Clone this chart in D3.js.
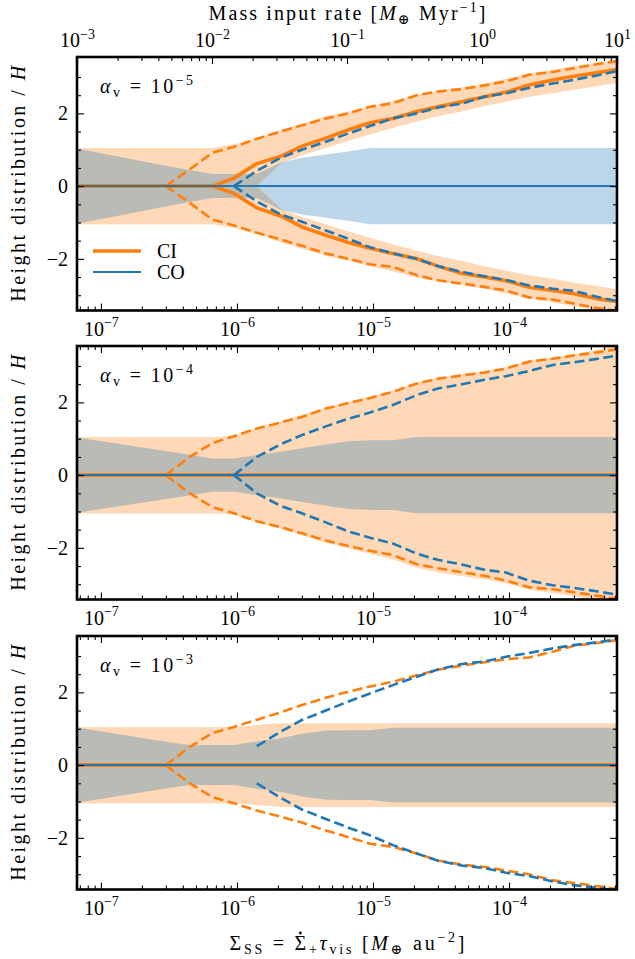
<!DOCTYPE html>
<html>
<head>
<meta charset="utf-8">
<script src="https://cdn.jsdelivr.net/npm/d3@7"></script>
<style>
body { margin: 0; background: #fff; }
text { font-family: "Liberation Serif", "DejaVu Serif", serif; fill: #000; }
</style>
</head>
<body>
<svg id="chart" width="635" height="959"></svg>
<script>
// Sigma_SS sample points [M_earth au^-2]
var sigma = [6.3e-8, 3.0e-7, 4.5e-7, 6.6e-7, 9.5e-7, 1.4e-6, 2.1e-6, 3.0e-6, 4.5e-6, 6.6e-6, 9.5e-6,
             1.4e-5, 2.1e-5, 3.0e-5, 4.5e-5, 6.6e-5, 9.5e-5, 1.4e-4, 2.1e-4, 3.0e-4, 4.5e-4, 6.6e-4];
var midplane = [0, 0, 0, 0, 0, 0, 0, 0, 0, 0, 0, 0, 0, 0, 0, 0, 0, 0, 0, 0, 0, 0];

// alpha_v = 1e-5
var p1CiBand = [1.05, 1.05, 1.05, 1.05, 1.15, 1.32, 1.55, 1.72, 1.92, 2.05, 2.2, 2.35, 2.52, 2.62, 2.72, 2.82, 2.95, 3.1, 3.2, 3.3, 3.4, 3.48];
var p1CiGap = [-1.05, -1.05, -1.05, -1.05, -1.05, 0, 0.62, 0.85, 1.05, 1.25, 1.42, 1.6, 1.78, 1.92, 2.05, 2.2, 2.32, 2.45, 2.55, 2.65, 2.75, 2.85];
var p1CoBand = [1.05, 0.56, 0.44, 0.33, 0.33, 0.33, 0.65, 0.78, 0.87, 0.95, 1.05, 1.05, 1.05, 1.05, 1.05, 1.05, 1.05, 1.05, 1.05, 1.05, 1.05, 1.05];
var p1CiUp = [0, 0, 0, 0, 0.22, 0.62, 0.82, 1.1, 1.32, 1.55, 1.74, 1.86, 2.05, 2.18, 2.32, 2.46, 2.58, 2.78, 2.92, 3.02, 3.12, 3.22];
var p1CiLo = [0, 0, 0, 0, -0.2, -0.6, -0.82, -1.12, -1.35, -1.55, -1.71, -1.85, -2.0, -2.2, -2.4, -2.5, -2.6, -2.78, -2.87, -2.96, -3.1, -3.18];
var p1CiDashUp = [null, 0, 0.46, 0.92, 1.08, 1.3, 1.5, 1.67, 1.86, 2.0, 2.18, 2.28, 2.5, 2.6, 2.67, 2.77, 2.88, 3.06, 3.14, 3.24, 3.36, 3.45];
var p1CiDashLo = [null, 0, -0.46, -0.92, -1.08, -1.28, -1.47, -1.64, -1.85, -2.0, -2.15, -2.22, -2.45, -2.59, -2.68, -2.77, -2.87, -3.06, -3.12, -3.23, -3.36, -3.43];
var p1CoDashUp = [null, null, null, null, 0, 0.42, 0.78, 1.0, 1.22, 1.45, 1.65, 1.86, 2.0, 2.16, 2.27, 2.46, 2.55, 2.7, 2.82, 2.92, 3.05, 3.18];
var p1CoDashLo = [null, null, null, null, 0, -0.42, -0.78, -0.98, -1.22, -1.45, -1.68, -1.85, -2.0, -2.2, -2.36, -2.48, -2.58, -2.73, -2.82, -2.88, -3.05, -3.18];

// alpha_v = 1e-4
var p2CiBand = [1.05, 1.05, 1.05, 1.05, 1.08, 1.3, 1.48, 1.65, 1.86, 2.02, 2.16, 2.32, 2.55, 2.68, 2.78, 2.86, 2.97, 3.15, 3.24, 3.33, 3.45, 3.6];
var p2CiGap = [-1.05, -1.05, -1.05, -1.05, -1.05, -1.05, -1.05, -1.05, -1.05, -1.05, -1.05, -1.05, -1.05, -1.05, -1.05, -1.05, -1.05, -1.05, -1.05, -1.05, -1.05, -1.05];
var p2CoBand = [1.05, 0.66, 0.56, 0.46, 0.46, 0.55, 0.64, 0.74, 0.84, 0.93, 0.96, 0.96, 1.05, 1.05, 1.05, 1.05, 1.05, 1.05, 1.05, 1.05, 1.05, 1.05];
var p2CiDashUp = [null, 0, 0.5, 0.88, 1.07, 1.28, 1.45, 1.6, 1.83, 1.98, 2.12, 2.29, 2.52, 2.65, 2.74, 2.82, 2.93, 3.12, 3.2, 3.29, 3.38, 3.47];
var p2CiDashLo = [null, 0, -0.5, -0.88, -1.05, -1.27, -1.43, -1.6, -1.8, -1.95, -2.08, -2.2, -2.45, -2.56, -2.67, -2.77, -2.9, -3.08, -3.14, -3.22, -3.32, -3.42];
var p2CoDashUp = [null, null, null, null, 0, 0.5, 0.85, 1.1, 1.34, 1.55, 1.72, 1.93, 2.2, 2.38, 2.5, 2.62, 2.72, 2.86, 3.03, 3.1, 3.2, 3.3];
var p2CoDashLo = [null, null, null, null, 0, -0.5, -0.85, -1.05, -1.3, -1.55, -1.72, -1.88, -2.16, -2.33, -2.46, -2.6, -2.68, -2.9, -3.03, -3.1, -3.2, -3.3];

// alpha_v = 1e-3
var p3CiBand = [1.05, 1.05, 1.05, 1.05, 1.05, 1.1, 1.15, 1.15, 1.15, 1.15, 1.15, 1.15, 1.15, 1.15, 1.15, 1.15, 1.15, 1.15, 1.15, 1.15, 1.15, 1.15];
var p3CiGap = [-1.05, -1.05, -1.05, -1.05, -1.05, -1.05, -1.05, -1.05, -1.05, -1.05, -1.05, -1.05, -1.05, -1.05, -1.05, -1.05, -1.05, -1.05, -1.05, -1.05, -1.05, -1.05];
var p3CoBand = [1.05, 0.64, 0.55, 0.55, 0.55, 0.65, 0.74, 0.86, 0.95, 0.96, 0.96, 1.03, 1.03, 1.03, 1.03, 1.03, 1.03, 1.03, 1.03, 1.03, 1.03, 1.03];
var p3CiDashUp = [null, 0, 0.5, 0.88, 1.05, 1.25, 1.45, 1.65, 1.85, 2.02, 2.16, 2.29, 2.47, 2.62, 2.74, 2.83, 2.91, 2.96, 3.12, 3.28, 3.36, 3.45];
var p3CiDashLo = [null, 0, -0.5, -0.88, -1.05, -1.25, -1.42, -1.58, -1.8, -1.98, -2.16, -2.25, -2.43, -2.62, -2.74, -2.8, -2.9, -3.0, -3.17, -3.24, -3.33, -3.42];
var p3CoDashUp = [null, null, null, null, null, 0.52, 0.92, 1.24, 1.5, 1.75, 1.97, 2.2, 2.43, 2.63, 2.78, 2.85, 2.98, 3.08, 3.21, 3.3, 3.38, 3.47];
var p3CoDashLo = [null, null, null, null, null, -0.5, -0.9, -1.22, -1.48, -1.72, -1.93, -2.2, -2.43, -2.63, -2.76, -2.83, -2.96, -3.05, -3.2, -3.3, -3.38, -3.45];

var alphaExp = ["\u22125", "\u22124", "\u22123"];
var xMajor = [1e-7, 1e-6, 1e-5, 1e-4];
var xMajorExp = ["\u22127", "\u22126", "\u22125", "\u22124"];
var topMajor = [1e-3, 1e-2, 1e-1, 1e0, 1e1];
var topMajorExp = ["\u22123", "\u22122", "\u22121", "0", "1"];
var yMajor = [-2, 0, 2];
var yMajorLabels = ["\u22122", "0", "2"];
var yMinor = [-3, -2.5, -1.5, -1, -0.5, 0.5, 1, 1.5, 2.5, 3];

var panels = [
    { ciBand: p1CiBand, ciGap: p1CiGap, coBand: p1CoBand, ciUp: p1CiUp, ciLo: p1CiLo,
      ciDashUp: p1CiDashUp, ciDashLo: p1CiDashLo, coDashUp: p1CoDashUp, coDashLo: p1CoDashLo },
    { ciBand: p2CiBand, ciGap: p2CiGap, coBand: p2CoBand, ciUp: midplane, ciLo: midplane,
      ciDashUp: p2CiDashUp, ciDashLo: p2CiDashLo, coDashUp: p2CoDashUp, coDashLo: p2CoDashLo },
    { ciBand: p3CiBand, ciGap: p3CiGap, coBand: p3CoBand, ciUp: midplane, ciLo: midplane,
      ciDashUp: p3CiDashUp, ciDashLo: p3CiDashLo, coDashUp: p3CoDashUp, coDashLo: p3CoDashLo }
];

var ORANGE = "#ff7f0e", BLUE = "#1f77b4", PEACH = "#ffd9b7";
var FS = 20;
var DASH = "10,4.5";
var left = 77, right = 617, panelTops = [57, 346, 636], ph = 253.5;

var svg = d3.select("#chart");
var x = d3.scaleLog().domain([6.67e-8, 6.22e-4]).range([left, right]);
var xTop = d3.scaleLog().domain([1e-3, 1e1]).range([left, right]);

function rich(t, parts, fs) {
    var shift = 0, spans = [];
    parts.forEach(function (p) {
        var kind = p[1] || "";
        var target = kind === "sup" ? -0.42 * fs : (kind === "sub" ? 0.22 * fs : 0);
        var ts = t.append("tspan").text(p[0])
            .attr("dy", target - shift)
            .attr("font-size", (kind === "sup" || kind === "sub") ? fs * 0.7 : fs);
        if (kind === "i") ts.attr("font-style", "italic");
        shift = target;
        spans.push(ts);
    });
    return spans;
}

function minorOf(scale) {
    return scale.ticks().filter(function (v) {
        var l = Math.log10(v);
        return Math.abs(l - Math.round(l)) > 1e-6;
    });
}

function cleanAxis(g) {
    g.select(".domain").remove();
    g.attr("font-family", null).attr("font-size", null);
    g.selectAll(".tick line").attr("stroke", "#000").attr("stroke-width", 1.1);
}

panels.forEach(function (pd, pi) {
    var top = panelTops[pi], bottom = top + ph;
    var y = d3.scaleLinear().domain([-3.42, 3.55]).range([bottom, top]);
    var g = svg.append("g");

    var clipId = "clip" + pi;
    svg.append("clipPath").attr("id", clipId)
        .append("rect").attr("x", left).attr("y", top).attr("width", right - left).attr("height", ph);
    var plot = g.append("g").attr("clip-path", "url(#" + clipId + ")");

    var rows = sigma.map(function (s, i) {
        return { s: s, ciBand: pd.ciBand[i], ciGap: pd.ciGap[i], coBand: pd.coBand[i],
                 ciUp: pd.ciUp[i], ciLo: pd.ciLo[i], ciDashUp: pd.ciDashUp[i], ciDashLo: pd.ciDashLo[i],
                 coDashUp: pd.coDashUp[i], coDashLo: pd.coDashLo[i], mid: midplane[i] };
    });

    // CI band, upper and lower pieces
    plot.append("path").datum(rows).attr("fill", PEACH)
        .attr("d", d3.area().x(function (d) { return x(d.s); })
            .y0(function (d) { return y(d.ciGap); }).y1(function (d) { return y(d.ciBand); }));
    plot.append("path").datum(rows).attr("fill", PEACH)
        .attr("d", d3.area().x(function (d) { return x(d.s); })
            .y0(function (d) { return y(-d.ciBand); }).y1(function (d) { return y(-d.ciGap); }));
    // CO band
    plot.append("path").datum(rows).attr("fill", BLUE).attr("fill-opacity", 0.3)
        .attr("d", d3.area().x(function (d) { return x(d.s); })
            .y0(function (d) { return y(-d.coBand); }).y1(function (d) { return y(d.coBand); }));

    function drawLine(key, color, width, dash) {
        var line = d3.line()
            .defined(function (d) { return d[key] !== null; })
            .x(function (d) { return x(d.s); })
            .y(function (d) { return y(d[key]); });
        plot.append("path").datum(rows)
            .attr("fill", "none").attr("stroke", color).attr("stroke-width", width)
            .attr("stroke-dasharray", dash || null)
            .attr("d", line);
    }
    drawLine("ciDashUp", ORANGE, 2.6, DASH);
    drawLine("ciDashLo", ORANGE, 2.6, DASH);
    drawLine("ciUp", ORANGE, 3.6);
    drawLine("ciLo", ORANGE, 3.6);
    drawLine("coDashUp", BLUE, 2.6, DASH);
    drawLine("coDashLo", BLUE, 2.6, DASH);
    drawLine("mid", BLUE, 2);

    // axes: ticks pointing inwards on all sides
    var gb = g.append("g").attr("transform", "translate(0," + bottom + ")")
        .call(d3.axisBottom(x).tickValues(xMajor).tickSizeInner(-7).tickSizeOuter(0).tickPadding(0))
        .call(cleanAxis);
    gb.selectAll(".tick text").each(function (d, i) {
        var t = d3.select(this).text("").attr("y", 25).attr("dy", null).attr("text-anchor", "middle");
        rich(t, [["10"], [xMajorExp[i], "sup"]], FS);
    });
    g.append("g").attr("transform", "translate(0," + bottom + ")")
        .call(d3.axisBottom(x).tickValues(minorOf(x)).tickSizeInner(-4).tickSizeOuter(0).tickFormat(""))
        .call(cleanAxis);

    if (pi === 0) {
        var gt = g.append("g").attr("transform", "translate(0," + top + ")")
            .call(d3.axisTop(xTop).tickValues(topMajor).tickSizeInner(-7).tickSizeOuter(0))
            .call(cleanAxis);
        gt.selectAll(".tick text").each(function (d, i) {
            var t = d3.select(this).text("").attr("y", -10).attr("dy", null).attr("text-anchor", "middle");
            rich(t, [["10"], [topMajorExp[i], "sup"]], FS);
        });
        g.append("g").attr("transform", "translate(0," + top + ")")
            .call(d3.axisTop(xTop).tickValues(minorOf(xTop)).tickSizeInner(-4).tickSizeOuter(0).tickFormat(""))
            .call(cleanAxis);
    } else {
        g.append("g").attr("transform", "translate(0," + top + ")")
            .call(d3.axisTop(x).tickValues(xMajor).tickSizeInner(-7).tickSizeOuter(0).tickFormat(""))
            .call(cleanAxis);
        g.append("g").attr("transform", "translate(0," + top + ")")
            .call(d3.axisTop(x).tickValues(minorOf(x)).tickSizeInner(-4).tickSizeOuter(0).tickFormat(""))
            .call(cleanAxis);
    }

    var gl = g.append("g").attr("transform", "translate(" + left + ",0)")
        .call(d3.axisLeft(y).tickValues(yMajor).tickSizeInner(-7).tickSizeOuter(0))
        .call(cleanAxis);
    gl.selectAll(".tick text").each(function (d, i) {
        d3.select(this).text(yMajorLabels[i]).attr("x", -9).attr("dy", "0.33em")
            .attr("font-size", FS).attr("text-anchor", "end");
    });
    g.append("g").attr("transform", "translate(" + left + ",0)")
        .call(d3.axisLeft(y).tickValues(yMinor).tickSizeInner(-4).tickSizeOuter(0).tickFormat(""))
        .call(cleanAxis);
    g.append("g").attr("transform", "translate(" + right + ",0)")
        .call(d3.axisRight(y).tickValues(yMajor).tickSizeInner(-7).tickSizeOuter(0).tickFormat(""))
        .call(cleanAxis);
    g.append("g").attr("transform", "translate(" + right + ",0)")
        .call(d3.axisRight(y).tickValues(yMinor).tickSizeInner(-4).tickSizeOuter(0).tickFormat(""))
        .call(cleanAxis);

    g.append("rect").attr("x", left).attr("y", top).attr("width", right - left).attr("height", ph)
        .attr("fill", "none").attr("stroke", "#000").attr("stroke-width", 2.6);

    // alpha annotation
    var at = g.append("text").attr("x", left + 23).attr("y", top + 36)
        .attr("textLength", 93).attr("lengthAdjust", "spacing");
    rich(at, [["\u03b1", "i"], ["v", "sub"], [" = 10"], [alphaExp[pi], "sup"]], FS);

    // y label
    var yl = g.append("text").attr("text-anchor", "middle")
        .attr("textLength", 236).attr("lengthAdjust", "spacing")
        .attr("transform", "translate(25," + (top + ph / 2) + ") rotate(-90)");
    rich(yl, [["Height distribution / "], ["H", "i"]], FS);

    if (pi === 0) {
        var legend = [["CI", ORANGE, 3.6, 251], ["CO", BLUE, 2, 272]];
        legend.forEach(function (l) {
            g.append("line").attr("x1", 93).attr("x2", 141).attr("y1", l[3]).attr("y2", l[3])
                .attr("stroke", l[1]).attr("stroke-width", l[2]);
            g.append("text").attr("x", 157).attr("y", l[3]).attr("dy", "0.35em")
                .attr("font-size", FS).text(l[0]);
        });
    }
});

// axis titles
var tt = svg.append("text").attr("x", (left + right) / 2).attr("y", 20).attr("text-anchor", "middle")
    .attr("textLength", 277).attr("lengthAdjust", "spacing");
rich(tt, [["Mass input rate ["], ["M", "i"], ["\u2295", "sub"], [" Myr"], ["\u22121", "sup"], ["]"]], FS);

var bt = svg.append("text").attr("x", (left + right) / 2).attr("y", 950).attr("text-anchor", "middle")
    .attr("textLength", 235).attr("lengthAdjust", "spacing");
var bspans = rich(bt, [["\u03a3"], ["SS", "sub"], [" = "], ["\u03a3"], ["+", "sub"], ["\u03c4", "i"], ["vis", "sub"],
          [" ["], ["M", "i"], ["\u2295", "sub"], [" au"], ["\u22122", "sup"], ["]"]], FS);
// dot over the second Sigma
var sb = bspans[3].node().getBBox();
svg.append("circle").attr("cx", sb.x + sb.width / 2).attr("cy", sb.y + 1).attr("r", 1.4).attr("fill", "#000");
</script>
</body>
</html>
